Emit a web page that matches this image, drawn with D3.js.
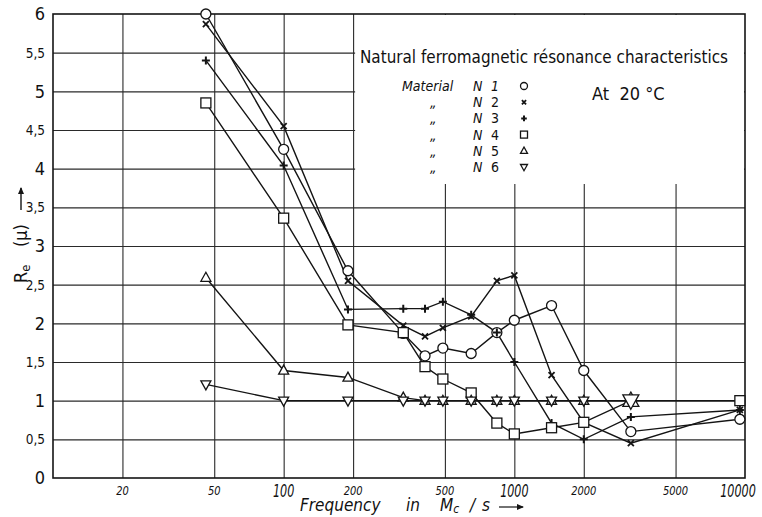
<!DOCTYPE html>
<html>
<head>
<meta charset="utf-8">
<script src="https://cdn.jsdelivr.net/npm/d3@7"></script>
<style>
  body { margin: 0; background: #fff; }
  svg { display: block; }
  text { font-family: "Liberation Sans Narrow", "DejaVu Sans Condensed", "Arial Narrow", sans-serif; fill: #111; }
</style>
</head>
<body>
<div id="chart"></div>
<script>
var WIDTH = 762, HEIGHT = 517;

// frequencies (Mc/s) at which the points were measured
var freqs = [46, 100, 190, 330, 410, 490, 650, 840, 1000, 1450, 2000, 3200, 9500];

// Re(mu) for each material
var n1 = [6.0, 4.25, 2.68, 1.87, 1.58, 1.68, 1.61, 1.88, 2.04, 2.23, 1.39, 0.60, 0.76];
var n2 = [5.87, 4.55, 2.55, 1.97, 1.83, 1.94, 2.09, 2.55, 2.62, 1.33, 0.72, 0.45, 0.88];
var n3 = [5.40, 4.04, 2.18, 2.19, 2.19, 2.28, 2.11, 1.88, 1.50, 0.71, 0.50, 0.79, 0.88];
var n4 = [4.85, 3.36, 1.98, 1.88, 1.44, 1.28, 1.10, 0.71, 0.57, 0.65, 0.72, 1.0, 1.0];
var n5 = [2.59, 1.39, 1.30, 1.04, 1.0, 1.0, 1.0, 1.0, 1.0, 1.0, 1.0, 1.0];
var n6 = [1.21, 1.0, 1.0, 1.0, 1.0, 1.0, 1.0, 1.0, 1.0, 1.0, 1.0, 1.0];

var seriesNames = ["N 1", "N 2", "N 3", "N 4", "N 5", "N 6"];
var seriesShapes = ["circle", "cross", "plus", "square", "up", "down"];

var xTicks = [20, 50, 100, 200, 500, 1000, 2000, 5000, 10000];
var yTicks = [0, 0.5, 1, 1.5, 2, 2.5, 3, 3.5, 4, 4.5, 5, 5.5, 6];
var yTickLabels = ["0", "0,5", "1", "1,5", "2", "2,5", "3", "3,5", "4", "4,5", "5", "5,5", "6"];

var titleText = "Natural ferromagnetic résonance characteristics";
var tempText = "At  20 °C";

var series = [n1, n2, n3, n4, n5, n6].map(function(vals, i) {
    return {
        name: seriesNames[i],
        shape: seriesShapes[i],
        points: vals.map(function(v, j) { return { f: freqs[j], v: v }; })
    };
});

var PLOT_L = 53, PLOT_R = 745, PLOT_T = 14, PLOT_B = 478;
var INK = "#141414";

var x = d3.scaleLog().domain([10, 10000]).range([PLOT_L, PLOT_R]);
var y = d3.scaleLinear().domain([0, 6]).range([PLOT_B, PLOT_T]);

var svg = d3.select("#chart").append("svg")
    .attr("width", WIDTH)
    .attr("height", HEIGHT);

// grid
svg.append("g")
    .attr("transform", "translate(0," + PLOT_B + ")")
    .call(d3.axisBottom(x).tickValues(xTicks.slice(0, -1)).tickSize(-(PLOT_B - PLOT_T)).tickFormat(""))
    .call(function(g) { g.select(".domain").remove(); })
    .selectAll("line").attr("stroke", "#2a2a2a").attr("stroke-width", 1.1);

svg.append("g")
    .attr("transform", "translate(" + PLOT_L + ",0)")
    .call(d3.axisLeft(y).tickValues(yTicks.slice(1, -1)).tickSize(-(PLOT_R - PLOT_L)).tickFormat(""))
    .call(function(g) { g.select(".domain").remove(); })
    .selectAll("line").attr("stroke", "#2a2a2a").attr("stroke-width", 1.1);

// legend area blanks the grid
svg.append("rect")
    .attr("x", x(200) + 2)
    .attr("y", PLOT_T + 1)
    .attr("width", PLOT_R - x(200) - 3)
    .attr("height", 183 - PLOT_T)
    .attr("fill", "#fff");

// frame
svg.append("rect")
    .attr("x", PLOT_L)
    .attr("y", PLOT_T)
    .attr("width", PLOT_R - PLOT_L)
    .attr("height", PLOT_B - PLOT_T)
    .attr("fill", "none")
    .attr("stroke", INK)
    .attr("stroke-width", 1.6);

// tick labels
svg.append("g").selectAll("text")
    .data(yTicks)
    .enter()
    .append("text")
        .attr("x", 45)
        .attr("y", function(d) { return y(d); })
        .attr("dy", "0.36em")
        .attr("text-anchor", "end")
        .attr("font-size", function(d) { return d % 1 === 0 ? 18 : 13.5; })
        .text(function(d, i) { return yTickLabels[i]; });

function isDecade(d) { return String(d).charAt(0) === "1"; }

svg.append("g").selectAll("text")
    .data(xTicks)
    .enter()
    .append("text")
        .attr("x", function(d) { return Math.min(x(d), 738); })
        .attr("y", function(d) { return isDecade(d) ? 497 : 495; })
        .attr("text-anchor", "middle")
        .attr("font-style", "italic")
        .attr("font-size", function(d) { return isDecade(d) ? 17 : 13; })
        .attr("textLength", function(d) { return String(d).length * (isDecade(d) ? 7.1 : 6.3); })
        .attr("lengthAdjust", "spacingAndGlyphs")
        .text(function(d) { return d; });

// axis titles
var xt = svg.append("text")
    .attr("y", 511)
    .attr("font-style", "italic")
    .attr("font-size", 17);
xt.append("tspan").attr("x", 300).text("Frequency");
xt.append("tspan").attr("x", 406).text("in");
xt.append("tspan").attr("x", 440).text("M");
xt.append("tspan").attr("font-size", 12).attr("dy", 2).text("c");
xt.append("tspan").attr("x", 470).attr("dy", -2).text("/");
xt.append("tspan").attr("x", 482).text("s");

svg.append("line")
    .attr("x1", 499).attr("x2", 523).attr("y1", 507).attr("y2", 507)
    .attr("stroke", INK).attr("stroke-width", 1.2);
svg.append("path")
    .attr("d", "M524,507 l-7,-3 l0,6 z")
    .attr("fill", INK);

var yt = svg.append("g").attr("transform", "translate(27,283) rotate(-90)");
var ytText = yt.append("text").attr("font-size", 18);
ytText.append("tspan").attr("x", 0).text("R");
ytText.append("tspan").attr("font-size", 13).attr("dy", 3).text("e");
ytText.append("tspan").attr("x", 36).attr("dy", -3).text("(μ)");
yt.append("line")
    .attr("x1", 73).attr("x2", 95).attr("y1", -6).attr("y2", -6)
    .attr("stroke", INK).attr("stroke-width", 1.4);
yt.append("path")
    .attr("d", "M96,-6 l-7,-3 l0,6 z")
    .attr("fill", INK);

// series lines
var line = d3.line()
    .x(function(d) { return x(d.f); })
    .y(function(d) { return y(d.v); });

svg.append("g").selectAll("path")
    .data(series)
    .enter()
    .append("path")
        .attr("d", function(d) { return line(d.points); })
        .attr("fill", "none")
        .attr("stroke", INK)
        .attr("stroke-width", 1.4);

// marker shapes
function drawMarker(g, shape, s) {
    if (shape === "circle") {
        g.append("circle").attr("r", s * 0.5).attr("fill", "#fff").attr("stroke", INK).attr("stroke-width", 1.3);
    } else if (shape === "square") {
        g.append("rect").attr("x", -s / 2).attr("y", -s / 2).attr("width", s).attr("height", s)
            .attr("fill", "#fff").attr("stroke", INK).attr("stroke-width", 1.3);
    } else if (shape === "up" || shape === "down") {
        var h = s * 0.9, k = shape === "up" ? 1 : -1;
        g.append("path")
            .attr("d", "M0," + (-k * h * 0.6) + " L" + (s / 2) + "," + (k * h * 0.4) + " L" + (-s / 2) + "," + (k * h * 0.4) + " Z")
            .attr("fill", "#fff").attr("stroke", INK).attr("stroke-width", 1.3);
    } else if (shape === "cross") {
        var c = s * 0.3;
        g.append("path").attr("d", "M" + (-c) + "," + (-c) + " L" + c + "," + c + " M" + c + "," + (-c) + " L" + (-c) + "," + c)
            .attr("stroke", INK).attr("stroke-width", 1.8);
    } else if (shape === "plus") {
        var p = s * 0.4;
        g.append("path").attr("d", "M" + (-p) + ",0 L" + p + ",0 M0," + (-p) + " L0," + p)
            .attr("stroke", INK).attr("stroke-width", 2);
    }
}

series.forEach(function(sr) {
    svg.append("g").selectAll("g")
        .data(sr.points)
        .enter()
        .append("g")
            .attr("transform", function(d) { return "translate(" + x(d.f) + "," + y(d.v) + ")"; })
            .each(function(d) {
                var big = d.f > 3000 && (sr.shape === "up" || sr.shape === "down");
                drawMarker(d3.select(this), sr.shape, big ? 16 : 10);
            });
});

// legend
svg.append("text")
    .attr("x", 360)
    .attr("y", 63)
    .attr("font-size", 18)
    .attr("textLength", 368)
    .attr("lengthAdjust", "spacingAndGlyphs")
    .text(titleText);

svg.append("text")
    .attr("x", 592)
    .attr("y", 100)
    .attr("font-size", 18)
    .style("white-space", "pre")
    .text(tempText);

var LEG_Y0 = 91, LEG_DY = 16.2;
var legRows = svg.append("g").selectAll("g")
    .data(series)
    .enter()
    .append("g")
        .attr("transform", function(d, i) { return "translate(0," + (LEG_Y0 + i * LEG_DY) + ")"; });

legRows.append("text")
    .attr("x", function(d, i) { return i === 0 ? 402 : 430; })
    .attr("font-style", "italic")
    .attr("font-size", 14)
    .text(function(d, i) { return i === 0 ? "Material" : "„"; });

legRows.append("text")
    .attr("x", 473)
    .attr("font-style", "italic")
    .attr("font-size", 14)
    .text("N");

legRows.append("text")
    .attr("x", 491)
    .attr("font-style", function(d, i) { return i === 0 ? "italic" : "normal"; })
    .attr("font-size", 14)
    .text(function(d) { return d.name.split(" ")[1]; });

legRows.append("g")
    .attr("transform", "translate(524,-5)")
    .each(function(d) { drawMarker(d3.select(this), d.shape, 7); });
</script>
</body>
</html>
